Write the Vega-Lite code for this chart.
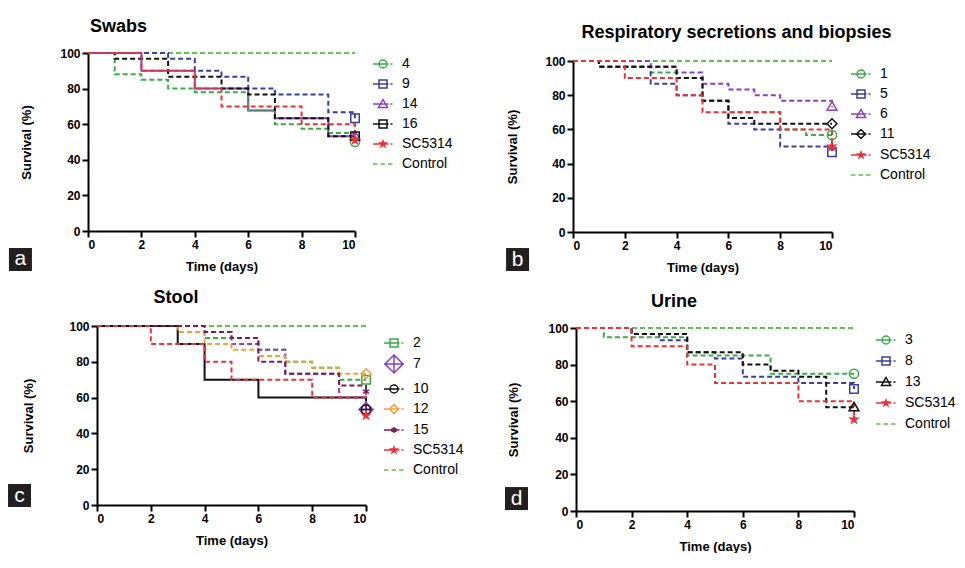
{
"$schema": "https://vega.github.io/schema/vega-lite/v6.json",
"background": "white",
"padding": {"left": 8, "top": 18, "right": 0, "bottom": 0},
"config": {
  "view": {"stroke": null},
  "font": "Liberation Sans",
  "axis": {"domainColor": "black", "domainWidth": 2, "tickColor": "black", "tickWidth": 2, "tickSize": 6, "labelFontSize": 12, "labelFontWeight": "bold", "labelColor": "black", "labelPadding": 2, "labelOverlap": false, "titleFontSize": 13, "titleFontWeight": "bold", "titleColor": "black", "grid": false},
  "legend": {"labelFontSize": 14, "labelColor": "black", "symbolSize": 400, "symbolStrokeWidth": 1.5, "rowPadding": 2, "labelOffset": 8, "orient": "right"},
  "title": {"fontSize": 18, "fontWeight": "bold", "color": "black", "frame": "group", "anchor": "middle", "offset": 15}
},
"datasets": {
  "swabs": [
    {"s":"Control","t":0,"v":100},{"s":"Control","t":10,"v":100},
    {"s":"4","t":0,"v":100},{"s":"4","t":1,"v":88},{"s":"4","t":2,"v":85},{"s":"4","t":3,"v":80},{"s":"4","t":4,"v":78},{"s":"4","t":6,"v":67.7},{"s":"4","t":7,"v":60},{"s":"4","t":8,"v":57.4},{"s":"4","t":9,"v":55},{"s":"4","t":10,"v":55},{"s":"4","t":10,"v":50},
    {"s":"9","t":0,"v":100},{"s":"9","t":3,"v":96.7},{"s":"9","t":4,"v":90},{"s":"9","t":5,"v":86.7},{"s":"9","t":6,"v":80},{"s":"9","t":7,"v":76.7},{"s":"9","t":9,"v":66.7},{"s":"9","t":10,"v":66.7},{"s":"9","t":10,"v":63.3},
    {"s":"14","t":0,"v":100},{"s":"14","t":2,"v":90},{"s":"14","t":4,"v":80},{"s":"14","t":6,"v":67.7},{"s":"14","t":7,"v":63.3},{"s":"14","t":9,"v":53.3},{"s":"14","t":10,"v":53.3},
    {"s":"16","t":0,"v":100},{"s":"16","t":1,"v":96.7},{"s":"16","t":3,"v":86.7},{"s":"16","t":5,"v":80},{"s":"16","t":6,"v":76.7},{"s":"16","t":7,"v":63.3},{"s":"16","t":9,"v":53.3},{"s":"16","t":10,"v":53.3},
    {"s":"SC5314","t":0,"v":100},{"s":"SC5314","t":2,"v":90},{"s":"SC5314","t":4,"v":80},{"s":"SC5314","t":5,"v":70},{"s":"SC5314","t":8,"v":60},{"s":"SC5314","t":10,"v":60},{"s":"SC5314","t":10,"v":51}
  ],
  "resp": [
    {"s":"Control","t":0,"v":100},{"s":"Control","t":10,"v":100},
    {"s":"1","t":0,"v":100},{"s":"1","t":1,"v":96.7},{"s":"1","t":3,"v":93.3},{"s":"1","t":4,"v":90},{"s":"1","t":5,"v":76.7},{"s":"1","t":6,"v":70},{"s":"1","t":8,"v":60},{"s":"1","t":9,"v":56.7},{"s":"1","t":10,"v":56.7},
    {"s":"5","t":0,"v":100},{"s":"5","t":1,"v":96.7},{"s":"5","t":3,"v":86.7},{"s":"5","t":4,"v":80},{"s":"5","t":5,"v":76.7},{"s":"5","t":6,"v":63.3},{"s":"5","t":7,"v":60},{"s":"5","t":8,"v":50},{"s":"5","t":10,"v":50},{"s":"5","t":10,"v":46.7},
    {"s":"6","t":0,"v":100},{"s":"6","t":3,"v":96.7},{"s":"6","t":4,"v":93.3},{"s":"6","t":5,"v":86.7},{"s":"6","t":6,"v":83.3},{"s":"6","t":7,"v":80},{"s":"6","t":8,"v":76.7},{"s":"6","t":10,"v":76.7},{"s":"6","t":10,"v":73.3},
    {"s":"11","t":0,"v":100},{"s":"11","t":1,"v":96.7},{"s":"11","t":4,"v":90},{"s":"11","t":5,"v":76.7},{"s":"11","t":6,"v":66.7},{"s":"11","t":7,"v":63.3},{"s":"11","t":10,"v":63.3},
    {"s":"SC5314","t":0,"v":100},{"s":"SC5314","t":2,"v":90},{"s":"SC5314","t":4,"v":80},{"s":"SC5314","t":5,"v":70},{"s":"SC5314","t":8,"v":60},{"s":"SC5314","t":10,"v":60},{"s":"SC5314","t":10,"v":50}
  ],
  "stool": [
    {"s":"Control","t":0,"v":100},{"s":"Control","t":10,"v":100},
    {"s":"2","t":0,"v":100},{"s":"2","t":4,"v":93.3},{"s":"2","t":6,"v":86.7},{"s":"2","t":7,"v":80},{"s":"2","t":8,"v":76.7},{"s":"2","t":9,"v":70},{"s":"2","t":10,"v":70},
    {"s":"7","t":0,"v":100},{"s":"7","t":4,"v":96.7},{"s":"7","t":5,"v":90},{"s":"7","t":6,"v":86.7},{"s":"7","t":7,"v":73.3},{"s":"7","t":9,"v":60},{"s":"7","t":10,"v":60},{"s":"7","t":10,"v":53.3},
    {"s":"10","t":0,"v":100},{"s":"10","t":3,"v":90},{"s":"10","t":4,"v":70},{"s":"10","t":6,"v":60},{"s":"10","t":10,"v":60},{"s":"10","t":10,"v":53.3},
    {"s":"12","t":0,"v":100},{"s":"12","t":3,"v":96.7},{"s":"12","t":4,"v":90},{"s":"12","t":5,"v":86.7},{"s":"12","t":6,"v":83.3},{"s":"12","t":7,"v":80},{"s":"12","t":8,"v":76.7},{"s":"12","t":9,"v":73.3},{"s":"12","t":10,"v":73.3},
    {"s":"15","t":0,"v":100},{"s":"15","t":4,"v":96.7},{"s":"15","t":5,"v":93.3},{"s":"15","t":6,"v":80},{"s":"15","t":7,"v":73.3},{"s":"15","t":9,"v":66.7},{"s":"15","t":10,"v":66.7},{"s":"15","t":10,"v":63.3},
    {"s":"SC5314","t":0,"v":100},{"s":"SC5314","t":2,"v":90},{"s":"SC5314","t":4,"v":80},{"s":"SC5314","t":5,"v":70},{"s":"SC5314","t":8,"v":60},{"s":"SC5314","t":10,"v":60},{"s":"SC5314","t":10,"v":50}
  ],
  "urine": [
    {"s":"Control","t":0,"v":100},{"s":"Control","t":10,"v":100},
    {"s":"3","t":0,"v":100},{"s":"3","t":1,"v":95},{"s":"3","t":4,"v":85},{"s":"3","t":7,"v":75},{"s":"3","t":10,"v":75},
    {"s":"8","t":0,"v":100},{"s":"8","t":2,"v":96.7},{"s":"8","t":3,"v":93.3},{"s":"8","t":4,"v":86.7},{"s":"8","t":5,"v":83.3},{"s":"8","t":6,"v":73.3},{"s":"8","t":8,"v":70},{"s":"8","t":10,"v":70},{"s":"8","t":10,"v":66.7},
    {"s":"13","t":0,"v":100},{"s":"13","t":2,"v":96.7},{"s":"13","t":4,"v":86.7},{"s":"13","t":6,"v":80},{"s":"13","t":7,"v":76.7},{"s":"13","t":8,"v":73.3},{"s":"13","t":9,"v":56.7},{"s":"13","t":10,"v":56.7},
    {"s":"SC5314","t":0,"v":100},{"s":"SC5314","t":2,"v":90},{"s":"SC5314","t":4,"v":80},{"s":"SC5314","t":5,"v":70},{"s":"SC5314","t":8,"v":60},{"s":"SC5314","t":10,"v":60},{"s":"SC5314","t":10,"v":50}
  ]
},
"columns": 1,
"align": "none",
"spacing": 15,
"concat": [
 {"columns": 2, "align": "none", "spacing": 53, "concat": [
  {"width": 267, "height": 178,
   "title": {"text": "Swabs", "dx": -103, "offset": 11},
   "data": {"name": "swabs"},
   "resolve": {"scale": {"color": "independent", "shape": "independent"}},
   "layer": [
    {"transform": [{"filter": "datum.s === '14'"}],
     "mark": {"type": "line", "interpolate": "step-after", "strokeWidth": 2},
     "encoding": {
      "x": {"field": "t", "type": "quantitative", "scale": {"domain": [0, 10]}, "axis": {"values": [0,2,4,6,8,10], "title": "Time (days)", "titlePadding": 10, "labelOverlap": false}},
      "y": {"field": "v", "type": "quantitative", "scale": {"domain": [0, 100]}, "axis": {"tickCount": 5, "title": "Survival (%)", "titlePadding": 26, "labelOverlap": false}},
      "color": {"field": "s", "type": "nominal", "scale": {"domain": ["4","9","14","16","SC5314","Control"], "range": ["#3aab47","#3b3f9f","#8c3fbf","#111111","#e8333b","#62c04f"]}, "legend": null},
      "order": [{"field": "t", "type": "quantitative"}, {"field": "v", "type": "quantitative", "sort": "descending"}]}},
    {"transform": [{"filter": "datum.s !== '14'"}],
     "mark": {"type": "line", "interpolate": "step-after", "strokeWidth": 2, "strokeDash": [5, 3]},
     "encoding": {
      "x": {"field": "t", "type": "quantitative"},
      "y": {"field": "v", "type": "quantitative"},
      "color": {"field": "s", "type": "nominal", "scale": {"domain": ["4","9","14","16","SC5314","Control"], "range": ["#3aab47","#3b3f9f","#8c3fbf","#111111","#e8333b","#62c04f"]}, "legend": null},
      "order": [{"field": "t", "type": "quantitative"}, {"field": "v", "type": "quantitative", "sort": "descending"}]}},
    {"transform": [{"filter": "datum.t === 10 && datum.s !== 'Control'"}, {"aggregate": [{"op": "min", "field": "v", "as": "v"}], "groupby": ["s", "t"]}],
     "mark": {"type": "point", "filled": false, "size": 200, "strokeWidth": 1.5, "opacity": 1},
     "encoding": {
      "x": {"field": "t", "type": "quantitative"},
      "y": {"field": "v", "type": "quantitative"},
      "color": {"field": "s", "type": "nominal", "scale": {"domain": ["4","9","14","16","SC5314","Control"], "range": ["#3aab47","#3b3f9f","#8c3fbf","#111111","#e8333b","#62c04f"]}, "legend": null},
      "fill": {"condition": {"test": "datum.s === 'SC5314'", "value": "#e8333b"}, "value": "transparent"},
      "shape": {"field": "s", "type": "nominal", "scale": {"domain": ["4","9","14","16","SC5314"], "range": ["M0.65,0A0.65,0.65,0,1,1,-0.65,0A0.65,0.65,0,1,1,0.65,0Z","M-0.6,-0.6L0.6,-0.6L0.6,0.6L-0.6,0.6Z","M0,-0.7L0.7,0.5L-0.7,0.5Z","M-0.6,-0.6L0.6,-0.6L0.6,0.6L-0.6,0.6Z","M0,-0.55L0.13,-0.18L0.52,-0.18L0.2,0.07L0.32,0.44L0,0.21L-0.32,0.44L-0.2,0.07L-0.52,-0.18L-0.13,-0.18Z"]}, "legend": null}}},
    {"transform": [{"filter": "datum.t < 0"}],
     "mark": {"type": "point", "filled": false, "size": 400, "strokeWidth": 1.5, "opacity": 1},
     "encoding": {
      "x": {"field": "t", "type": "quantitative"},
      "y": {"field": "v", "type": "quantitative"},
      "color": {"field": "s", "type": "nominal", "scale": {"domain": ["4","9","14","16","SC5314","Control"], "range": ["#3aab47","#3b3f9f","#8c3fbf","#111111","#e8333b","#62c04f"]}, "legend": {"title": null, "offset": 13, "padding": 0}},
      "shape": {"field": "s", "type": "nominal", "scale": {"domain": ["4","9","14","16","SC5314","Control"], "range": ["M-1,0L0.55,0M0.75,0L0.95,0M0.4,0A0.4,0.4,0,1,1,-0.4,0A0.4,0.4,0,1,1,0.4,0Z","M-1,0L0.55,0M0.75,0L0.95,0M-0.4,-0.4L0.4,-0.4L0.4,0.4L-0.4,0.4Z","M-1,0L0.55,0M0.75,0L0.95,0M0,-0.45L0.45,0.35L-0.45,0.35Z","M-1,0L0.55,0M0.75,0L0.95,0M-0.4,-0.4L0.4,-0.4L0.4,0.4L-0.4,0.4Z","M-1,0L0.55,0M0.75,0L0.95,0M0,-0.3L0.07,-0.1L0.29,-0.1L0.11,0.04L0.18,0.24L0,0.11L-0.18,0.24L-0.11,0.04L-0.29,-0.1L-0.07,-0.1Z","M-1,0L-0.55,0M-0.25,0L0.2,0M0.5,0L0.95,0"]}, "legend": {"title": null}}}},
    {"data": {"values": [{}]}, "mark": {"type": "point", "shape": "square", "size": 529, "filled": true, "color": "#231f20", "opacity": 1, "strokeWidth": 0},
     "encoding": {"x": {"datum": -2.53, "type": "quantitative"}, "y": {"datum": -16, "type": "quantitative"}}},
    {"data": {"values": [{}]}, "mark": {"type": "text", "text": "a", "color": "white", "fontSize": 21, "baseline": "middle", "align": "center"},
     "encoding": {"x": {"datum": -2.53, "type": "quantitative"}, "y": {"datum": -16, "type": "quantitative"}}}
   ]},
  {"width": 259, "height": 179,
   "title": {"text": "Respiratory secretions and biopsies", "dx": 34, "offset": 11},
   "data": {"name": "resp"},
   "resolve": {"scale": {"color": "independent", "shape": "independent"}},
   "layer": [
    {"mark": {"type": "line", "interpolate": "step-after", "strokeWidth": 2, "strokeDash": [5, 3]},
     "encoding": {
      "x": {"field": "t", "type": "quantitative", "scale": {"domain": [0, 10]}, "axis": {"values": [0,2,4,6,8,10], "title": "Time (days)", "titlePadding": 10, "labelOverlap": false}},
      "y": {"field": "v", "type": "quantitative", "scale": {"domain": [0, 100], "range": [179, 8]}, "axis": {"tickCount": 5, "title": "Survival (%)", "titlePadding": 25, "labelOverlap": false}},
      "color": {"field": "s", "type": "nominal", "scale": {"domain": ["1","5","6","11","SC5314","Control"], "range": ["#3aab47","#3b3f9f","#8c3fbf","#111111","#e8333b","#62c04f"]}, "legend": null},
      "order": [{"field": "t", "type": "quantitative"}, {"field": "v", "type": "quantitative", "sort": "descending"}]}},
    {"transform": [{"filter": "datum.t === 10 && datum.s !== 'Control'"}, {"aggregate": [{"op": "min", "field": "v", "as": "v"}], "groupby": ["s", "t"]}],
     "mark": {"type": "point", "filled": false, "size": 200, "strokeWidth": 1.5, "opacity": 1},
     "encoding": {
      "x": {"field": "t", "type": "quantitative"},
      "y": {"field": "v", "type": "quantitative"},
      "color": {"field": "s", "type": "nominal", "scale": {"domain": ["1","5","6","11","SC5314","Control"], "range": ["#3aab47","#3b3f9f","#8c3fbf","#111111","#e8333b","#62c04f"]}, "legend": null},
      "fill": {"condition": {"test": "datum.s === 'SC5314'", "value": "#e8333b"}, "value": "transparent"},
      "shape": {"field": "s", "type": "nominal", "scale": {"domain": ["1","5","6","11","SC5314"], "range": ["M0.65,0A0.65,0.65,0,1,1,-0.65,0A0.65,0.65,0,1,1,0.65,0Z","M-0.6,-0.6L0.6,-0.6L0.6,0.6L-0.6,0.6Z","M0,-0.7L0.7,0.5L-0.7,0.5Z","M0,-0.7L0.7,0L0,0.7L-0.7,0Z","M0,-0.55L0.13,-0.18L0.52,-0.18L0.2,0.07L0.32,0.44L0,0.21L-0.32,0.44L-0.2,0.07L-0.52,-0.18L-0.13,-0.18Z"]}, "legend": null}}},
    {"transform": [{"filter": "datum.t < 0"}],
     "mark": {"type": "point", "filled": false, "size": 400, "strokeWidth": 1.5, "opacity": 1},
     "encoding": {
      "x": {"field": "t", "type": "quantitative"},
      "y": {"field": "v", "type": "quantitative"},
      "color": {"field": "s", "type": "nominal", "scale": {"domain": ["1","5","6","11","SC5314","Control"], "range": ["#3aab47","#3b3f9f","#8c3fbf","#111111","#e8333b","#62c04f"]}, "legend": {"title": null, "offset": 4, "padding": 10}},
      "shape": {"field": "s", "type": "nominal", "scale": {"domain": ["1","5","6","11","SC5314","Control"], "range": ["M-1,0L0.55,0M0.75,0L0.95,0M0.4,0A0.4,0.4,0,1,1,-0.4,0A0.4,0.4,0,1,1,0.4,0Z","M-1,0L0.55,0M0.75,0L0.95,0M-0.4,-0.4L0.4,-0.4L0.4,0.4L-0.4,0.4Z","M-1,0L0.55,0M0.75,0L0.95,0M0,-0.45L0.45,0.35L-0.45,0.35Z","M-1,0L0.55,0M0.75,0L0.95,0M0,-0.45L0.45,0L0,0.45L-0.45,0Z","M-1,0L0.55,0M0.75,0L0.95,0M0,-0.3L0.07,-0.1L0.29,-0.1L0.11,0.04L0.18,0.24L0,0.11L-0.18,0.24L-0.11,0.04L-0.29,-0.1L-0.07,-0.1Z","M-1,0L-0.55,0M-0.25,0L0.2,0M0.5,0L0.95,0"]}, "legend": {"title": null}}}},
    {"data": {"values": [{}]}, "mark": {"type": "point", "shape": "square", "size": 529, "filled": true, "color": "#231f20", "opacity": 1, "strokeWidth": 0},
     "encoding": {"x": {"datum": -2.14, "type": "quantitative"}, "y": {"datum": -16.1, "type": "quantitative"}}},
    {"data": {"values": [{}]}, "mark": {"type": "text", "text": "b", "color": "white", "fontSize": 21, "baseline": "middle", "align": "center"},
     "encoding": {"x": {"datum": -2.14, "type": "quantitative"}, "y": {"datum": -16.1, "type": "quantitative"}}}
   ]}
 ]},
 {"columns": 2, "align": "none", "spacing": 35, "concat": [
  {"width": 278, "height": 179,
   "title": {"text": "Stool", "dx": -51, "offset": 13},
   "data": {"name": "stool"},
   "resolve": {"scale": {"color": "independent", "shape": "independent"}},
   "layer": [
    {"transform": [{"filter": "datum.s === '10'"}],
     "mark": {"type": "line", "interpolate": "step-after", "strokeWidth": 2},
     "encoding": {
      "x": {"field": "t", "type": "quantitative", "scale": {"domain": [0, 10], "range": [9, 278]}, "axis": {"values": [0,2,4,6,8,10], "title": "Time (days)", "titlePadding": 10, "labelOverlap": false}},
      "y": {"field": "v", "type": "quantitative", "scale": {"domain": [0, 100]}, "axis": {"tickCount": 5, "title": "Survival (%)", "titlePadding": 33, "offset": -9, "labelOverlap": false}},
      "color": {"field": "s", "type": "nominal", "scale": {"domain": ["2","7","10","12","15","SC5314","Control"], "range": ["#3aab47","#8c3fbf","#111111","#f5a035","#7c1d52","#e8333b","#62c04f"]}, "legend": null},
      "order": [{"field": "t", "type": "quantitative"}, {"field": "v", "type": "quantitative", "sort": "descending"}]}},
    {"transform": [{"filter": "datum.s !== '10'"}],
     "mark": {"type": "line", "interpolate": "step-after", "strokeWidth": 2, "strokeDash": [5, 3]},
     "encoding": {
      "x": {"field": "t", "type": "quantitative"},
      "y": {"field": "v", "type": "quantitative"},
      "color": {"field": "s", "type": "nominal", "scale": {"domain": ["2","7","10","12","15","SC5314","Control"], "range": ["#3aab47","#8c3fbf","#111111","#f5a035","#7c1d52","#e8333b","#62c04f"]}, "legend": null},
      "order": [{"field": "t", "type": "quantitative"}, {"field": "v", "type": "quantitative", "sort": "descending"}]}},
    {"transform": [{"filter": "datum.t === 10 && datum.s !== 'Control'"}, {"aggregate": [{"op": "min", "field": "v", "as": "v"}], "groupby": ["s", "t"]}],
     "mark": {"type": "point", "filled": false, "size": 200, "strokeWidth": 1.5, "opacity": 1},
     "encoding": {
      "x": {"field": "t", "type": "quantitative"},
      "y": {"field": "v", "type": "quantitative"},
      "color": {"field": "s", "type": "nominal", "scale": {"domain": ["2","7","10","12","15","SC5314","Control"], "range": ["#3aab47","#8c3fbf","#111111","#f5a035","#7c1d52","#e8333b","#62c04f"]}, "legend": null},
      "fill": {"condition": {"test": "datum.s === 'SC5314'", "value": "#e8333b"}, "value": "transparent"},
      "shape": {"field": "s", "type": "nominal", "scale": {"domain": ["2","7","10","12","15","SC5314"], "range": ["M-0.6,-0.6L0.6,-0.6L0.6,0.6L-0.6,0.6Z","M0,-1L1,0L0,1L-1,0ZM0,-1L0,1M-1,0L1,0","M0.65,0A0.65,0.65,0,1,1,-0.65,0A0.65,0.65,0,1,1,0.65,0ZM-0.65,0L0.65,0","M0,-0.7L0.7,0L0,0.7L-0.7,0Z","M0,-0.5L0,0.5M-0.43,-0.25L0.43,0.25M-0.43,0.25L0.43,-0.25","M0,-0.55L0.13,-0.18L0.52,-0.18L0.2,0.07L0.32,0.44L0,0.21L-0.32,0.44L-0.2,0.07L-0.52,-0.18L-0.13,-0.18Z"]}, "legend": null}}},
    {"transform": [{"filter": "datum.t < 0"}],
     "mark": {"type": "point", "filled": false, "size": 400, "strokeWidth": 1.5, "opacity": 1},
     "encoding": {
      "x": {"field": "t", "type": "quantitative"},
      "y": {"field": "v", "type": "quantitative"},
      "color": {"field": "s", "type": "nominal", "scale": {"domain": ["2","7","10","12","15","SC5314","Control"], "range": ["#3aab47","#8c3fbf","#111111","#f5a035","#7c1d52","#e8333b","#62c04f"]}, "legend": {"title": null, "offset": 7, "padding": 6}},
      "shape": {"field": "s", "type": "nominal", "scale": {"domain": ["2","7","10","12","15","SC5314","Control"], "range": ["M-1,0L0.55,0M0.75,0L0.95,0M-0.4,-0.4L0.4,-0.4L0.4,0.4L-0.4,0.4Z","M-1,0L1,0M0,-0.9L0.9,0L0,0.9L-0.9,0ZM0,-0.9L0,0.9","M-1,0L0.55,0M0.75,0L0.95,0M0.4,0A0.4,0.4,0,1,1,-0.4,0A0.4,0.4,0,1,1,0.4,0Z","M-1,0L0.55,0M0.75,0L0.95,0M0,-0.45L0.45,0L0,0.45L-0.45,0Z","M-1,0L0.55,0M0.75,0L0.95,0M0,-0.3L0,0.3M-0.26,-0.15L0.26,0.15M-0.26,0.15L0.26,-0.15","M-1,0L0.55,0M0.75,0L0.95,0M0,-0.3L0.07,-0.1L0.29,-0.1L0.11,0.04L0.18,0.24L0,0.11L-0.18,0.24L-0.11,0.04L-0.29,-0.1L-0.07,-0.1Z","M-1,0L-0.55,0M-0.25,0L0.2,0M0.5,0L0.95,0"]}, "legend": {"title": null}}}},
    {"data": {"values": [{}]}, "mark": {"type": "point", "shape": "square", "size": 529, "filled": true, "color": "#231f20", "opacity": 1, "strokeWidth": 0},
     "encoding": {"x": {"datum": -2.88, "type": "quantitative"}, "y": {"datum": 5.3, "type": "quantitative"}}},
    {"data": {"values": [{}]}, "mark": {"type": "text", "text": "c", "color": "white", "fontSize": 21, "baseline": "middle", "align": "center"},
     "encoding": {"x": {"datum": -2.88, "type": "quantitative"}, "y": {"datum": 5.3, "type": "quantitative"}}}
   ]},
  {"width": 278, "height": 185,
   "title": {"text": "Urine", "dx": -41, "offset": 11},
   "data": {"name": "urine"},
   "resolve": {"scale": {"color": "independent", "shape": "independent"}},
   "layer": [
    {"mark": {"type": "line", "interpolate": "step-after", "strokeWidth": 2, "strokeDash": [5, 3]},
     "encoding": {
      "x": {"field": "t", "type": "quantitative", "scale": {"domain": [0, 10]}, "axis": {"values": [0,2,4,6,8,10], "title": "Time (days)", "titlePadding": 10, "labelOverlap": false}},
      "y": {"field": "v", "type": "quantitative", "scale": {"domain": [0, 100], "range": [185, 2]}, "axis": {"tickCount": 5, "title": "Survival (%)", "titlePadding": 27, "labelOverlap": false}},
      "color": {"field": "s", "type": "nominal", "scale": {"domain": ["3","8","13","SC5314","Control"], "range": ["#3aab47","#3b3f9f","#111111","#e8333b","#62c04f"]}, "legend": null},
      "order": [{"field": "t", "type": "quantitative"}, {"field": "v", "type": "quantitative", "sort": "descending"}]}},
    {"transform": [{"filter": "datum.t === 10 && datum.s !== 'Control'"}, {"aggregate": [{"op": "min", "field": "v", "as": "v"}], "groupby": ["s", "t"]}],
     "mark": {"type": "point", "filled": false, "size": 200, "strokeWidth": 1.5, "opacity": 1},
     "encoding": {
      "x": {"field": "t", "type": "quantitative"},
      "y": {"field": "v", "type": "quantitative"},
      "color": {"field": "s", "type": "nominal", "scale": {"domain": ["3","8","13","SC5314","Control"], "range": ["#3aab47","#3b3f9f","#111111","#e8333b","#62c04f"]}, "legend": null},
      "fill": {"condition": {"test": "datum.s === 'SC5314'", "value": "#e8333b"}, "value": "transparent"},
      "shape": {"field": "s", "type": "nominal", "scale": {"domain": ["3","8","13","SC5314"], "range": ["M0.65,0A0.65,0.65,0,1,1,-0.65,0A0.65,0.65,0,1,1,0.65,0Z","M-0.6,-0.6L0.6,-0.6L0.6,0.6L-0.6,0.6Z","M0,-0.7L0.7,0.5L-0.7,0.5Z","M0,-0.55L0.13,-0.18L0.52,-0.18L0.2,0.07L0.32,0.44L0,0.21L-0.32,0.44L-0.2,0.07L-0.52,-0.18L-0.13,-0.18Z"]}, "legend": null}}},
    {"transform": [{"filter": "datum.t < 0"}],
     "mark": {"type": "point", "filled": false, "size": 400, "strokeWidth": 1.5, "opacity": 1},
     "encoding": {
      "x": {"field": "t", "type": "quantitative"},
      "y": {"field": "v", "type": "quantitative"},
      "color": {"field": "s", "type": "nominal", "scale": {"domain": ["3","8","13","SC5314","Control"], "range": ["#3aab47","#3b3f9f","#111111","#e8333b","#62c04f"]}, "legend": {"title": null, "offset": 14, "padding": 3, "rowPadding": 3}},
      "shape": {"field": "s", "type": "nominal", "scale": {"domain": ["3","8","13","SC5314","Control"], "range": ["M-1,0L0.55,0M0.75,0L0.95,0M0.4,0A0.4,0.4,0,1,1,-0.4,0A0.4,0.4,0,1,1,0.4,0Z","M-1,0L0.55,0M0.75,0L0.95,0M-0.4,-0.4L0.4,-0.4L0.4,0.4L-0.4,0.4Z","M-1,0L0.55,0M0.75,0L0.95,0M0,-0.45L0.45,0.35L-0.45,0.35Z","M-1,0L0.55,0M0.75,0L0.95,0M0,-0.3L0.07,-0.1L0.29,-0.1L0.11,0.04L0.18,0.24L0,0.11L-0.18,0.24L-0.11,0.04L-0.29,-0.1L-0.07,-0.1Z","M-1,0L-0.55,0M-0.25,0L0.2,0M0.5,0L0.95,0"]}, "legend": {"title": null}}}},
    {"data": {"values": [{}]}, "mark": {"type": "point", "shape": "square", "size": 529, "filled": true, "color": "#231f20", "opacity": 1, "strokeWidth": 0},
     "encoding": {"x": {"datum": -2.14, "type": "quantitative"}, "y": {"datum": 6.8, "type": "quantitative"}}},
    {"data": {"values": [{}]}, "mark": {"type": "text", "text": "d", "color": "white", "fontSize": 21, "baseline": "middle", "align": "center"},
     "encoding": {"x": {"datum": -2.14, "type": "quantitative"}, "y": {"datum": 6.8, "type": "quantitative"}}}
   ]}
 ]}
]
}
